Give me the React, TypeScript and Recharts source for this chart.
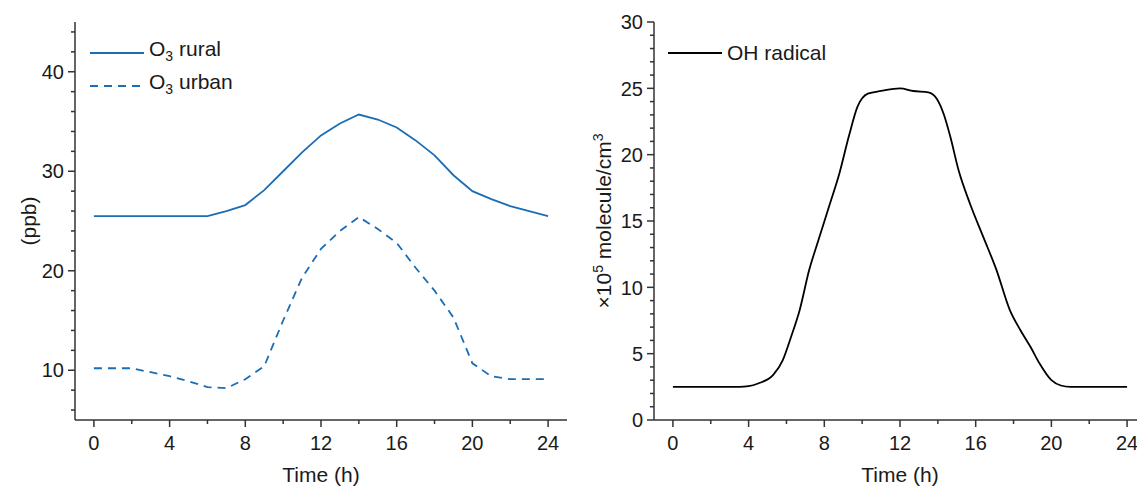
import React from 'react'
import { LineChart, Line, XAxis, YAxis } from 'recharts'

const FONT = '"Liberation Sans", Arial, sans-serif'
const BLUE = '#1b6db4'
const AXIS = '#333333'
const TEXT = '#1a1a1a'

// left panel: ozone, hourly
const hours = [0, 1, 2, 3, 4, 5, 6, 7, 8, 9, 10, 11, 12, 13, 14, 15, 16, 17, 18, 19, 20, 21, 22, 23, 24]
const o3Rural = [25.5, 25.5, 25.5, 25.5, 25.5, 25.5, 25.5, 26.0, 26.6, 28.1, 30.0, 31.9, 33.6, 34.8, 35.7, 35.2, 34.4, 33.1, 31.6, 29.6, 28.0, 27.2, 26.5, 26.0, 25.5]
const o3Urban = [10.2, 10.2, 10.2, 9.8, 9.4, 8.9, 8.3, 8.2, 9.1, 10.4, 15.0, 19.3, 22.2, 24.0, 25.4, 24.2, 22.8, 20.3, 18.0, 15.3, 10.7, 9.4, 9.1, 9.1, 9.1]

// right panel: OH radical
const ohHours = [0, 1, 2, 3, 3.5, 4, 4.5, 5.3, 5.8, 6.25, 6.7, 7.2, 7.7, 8.25, 8.8, 9.3, 9.75, 10.3, 11, 12, 12.7, 13.5, 13.95, 14.3, 14.65, 15.1, 15.7, 16.4, 17.1, 17.8, 18.35, 18.9, 19.4, 20, 20.5, 21, 22, 23, 24]
const ohValues = [2.5, 2.5, 2.5, 2.5, 2.5, 2.55, 2.75, 3.4, 4.5, 6.3, 8.3, 11.3, 13.6, 16.1, 18.6, 21.4, 23.6, 24.6, 24.8, 25.0, 24.8, 24.7, 24.2, 23.1, 21.4, 18.8, 16.3, 13.8, 11.3, 8.3, 6.8, 5.5, 4.2, 3.0, 2.6, 2.5, 2.5, 2.5, 2.5]

const xMajor = [0, 4, 8, 12, 16, 20, 24]
const xTicks = [0, 2, 4, 6, 8, 10, 12, 14, 16, 18, 20, 22, 24]
const leftMajor = [10, 20, 30, 40]
const leftTicks = [6, 8, 10, 12, 14, 16, 18, 20, 22, 24, 26, 28, 30, 32, 34, 36, 38, 40, 42, 44]
const rightMajor = [0, 5, 10, 15, 20, 25, 30]
const rightTicks = Array.from({ length: 31 }, (_, i) => i)

const ozoneData = hours.map((h, i) => ({ h, rural: o3Rural[i], urban: o3Urban[i] }))
const ohData = ohHours.map((h, i) => ({ h, oh: ohValues[i] }))

const XTick = (props: any) => {
  const { x, y, payload } = props
  const major = xMajor.includes(payload.value)
  return (
    <g>
      <line x1={x} y1={y} x2={x} y2={y + (major ? 7 : 4)} stroke={AXIS} strokeWidth={1.5} />
      {major && (
        <text x={x} y={y + 30} textAnchor='middle' fontSize={20} fontFamily={FONT} fill={TEXT}>
          {payload.value}
        </text>
      )}
    </g>
  )
}

const makeYTick = (majors: number[]) => (props: any) => {
  const { x, y, payload } = props
  const major = majors.includes(payload.value)
  return (
    <g>
      <line x1={x} y1={y} x2={x - (major ? 7 : 4)} y2={y} stroke={AXIS} strokeWidth={1.5} />
      {major && (
        <text x={x - 11} y={y} dy='0.36em' textAnchor='end' fontSize={20} fontFamily={FONT} fill={TEXT}>
          {payload.value}
        </text>
      )}
    </g>
  )
}

const timeLabel = (p: any) => {
  const vb = p.viewBox
  return (
    <text x={vb.x + vb.width / 2} y={vb.y + 62} textAnchor='middle' fontSize={21} fontFamily={FONT} fill={TEXT}>
      Time (h)
    </text>
  )
}

const LegendRow = ({ dashed, color, children }: any) => (
  <div style={{ display: 'flex', alignItems: 'center', height: 33 }}>
    <svg width={54} height={10} style={{ marginRight: 5 }}>
      <line x1={0} y1={5} x2={54} y2={5} stroke={color} strokeWidth={1.8} strokeDasharray={dashed ? '8 6' : undefined} />
    </svg>
    <span style={{ fontFamily: FONT, fontSize: 21, color: TEXT, lineHeight: '24px' }}>{children}</span>
  </div>
)

const App = () => (
  <div style={{ position: 'absolute', left: 0, top: 0, width: 1137, height: 488, overflow: 'hidden', background: '#fff' }}>
    <div style={{ position: 'absolute', left: 0, top: 0 }}>
      <LineChart width={570} height={488} data={ozoneData} margin={{ top: 22, right: 3, bottom: 8, left: 20 }}>
        <XAxis
          dataKey='h'
          type='number'
          domain={[-1, 25]}
          ticks={xTicks}
          interval={0}
          tickSize={0}
          tickMargin={0}
          tick={<XTick />}
          height={60}
          stroke={AXIS}
          strokeWidth={1.5}
          label={timeLabel}
        />
        <YAxis
          type='number'
          domain={[5, 45]}
          ticks={leftTicks}
          interval={0}
          tickSize={0}
          tickMargin={0}
          tick={makeYTick(leftMajor)}
          width={55}
          stroke={AXIS}
          strokeWidth={1.5}
          label={(p: any) => {
            const vb = p.viewBox
            const cx = 28
            const cy = vb.y + vb.height / 2
            return (
              <text x={cx} y={cy} dy='0.36em' transform={`rotate(-90 ${cx} ${cy})`} textAnchor='middle' fontSize={21} fontFamily={FONT} fill={TEXT}>
                (ppb)
              </text>
            )
          }}
        />
        <Line dataKey='rural' name='O3 rural' type='linear' stroke={BLUE} strokeWidth={1.8} dot={false} isAnimationActive={false} />
        <Line dataKey='urban' name='O3 urban' type='linear' stroke={BLUE} strokeWidth={1.8} strokeDasharray='8 6' dot={false} isAnimationActive={false} />
      </LineChart>
      <div style={{ position: 'absolute', left: 90, top: 36 }}>
        <LegendRow color={BLUE}>
          O<sub style={{ fontSize: 14 }}>3</sub> rural
        </LegendRow>
        <LegendRow color={BLUE} dashed>
          O<sub style={{ fontSize: 14 }}>3</sub> urban
        </LegendRow>
      </div>
    </div>
    <div style={{ position: 'absolute', left: 570, top: 0 }}>
      <LineChart width={580} height={488} data={ohData} margin={{ top: 22, right: 4, bottom: 8, left: 29 }}>
        <XAxis
          dataKey='h'
          type='number'
          domain={[-1, 25]}
          ticks={xTicks}
          interval={0}
          tickSize={0}
          tickMargin={0}
          tick={<XTick />}
          height={60}
          stroke={AXIS}
          strokeWidth={1.5}
          label={timeLabel}
        />
        <YAxis
          type='number'
          domain={[0, 30]}
          ticks={rightTicks}
          interval={0}
          tickSize={0}
          tickMargin={0}
          tick={makeYTick(rightMajor)}
          width={55}
          stroke={AXIS}
          strokeWidth={1.5}
          label={(p: any) => {
            const vb = p.viewBox
            const cx = 33
            const cy = vb.y + vb.height / 2
            return (
              <text x={cx} y={cy} dy='0.36em' transform={`rotate(-90 ${cx} ${cy})`} textAnchor='middle' fontSize={21} fontFamily={FONT} fill={TEXT}>
                ×10
                <tspan fontSize={14} dy={-8}>5</tspan>
                <tspan dy={8}> molecule/cm</tspan>
                <tspan fontSize={14} dy={-8}>3</tspan>
              </text>
            )
          }}
        />
        <Line dataKey='oh' name='OH radical' type='monotone' stroke='#000' strokeWidth={1.8} dot={false} isAnimationActive={false} />
      </LineChart>
      <div style={{ position: 'absolute', left: 98, top: 36 }}>
        <LegendRow color='#000'>OH radical</LegendRow>
      </div>
    </div>
  </div>
)

export default App
